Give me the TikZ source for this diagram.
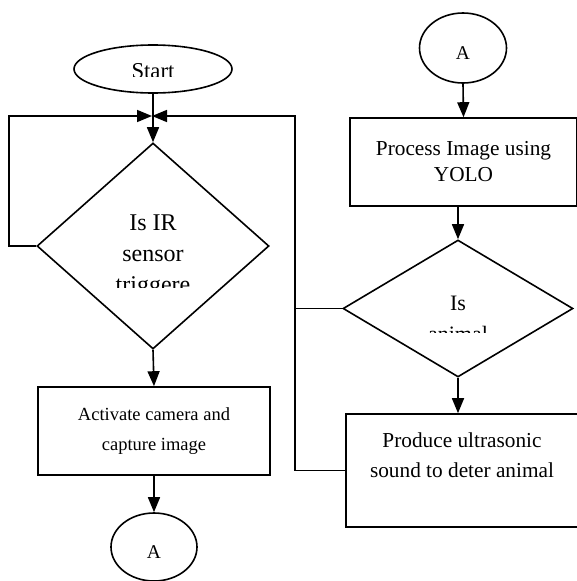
\documentclass[tikz,border=0pt]{standalone}
\usepackage{fontspec}
\setmainfont{Liberation Serif}
\usetikzlibrary{shapes.geometric, arrows.meta}

\begin{document}
\begin{tikzpicture}[x=1pt, y=-1pt, >={Triangle[width=12pt,length=15pt]}, line width=1.6pt,
    flowbox/.style={draw, rectangle, inner sep=0pt, align=center},
    decision/.style={draw, diamond, inner sep=0pt},
    terminal/.style={draw, ellipse, inner sep=0pt},
    connector/.style={terminal, text height=23pt, text depth=0pt, font=\fontsize{19.5}{24}\selectfont}]
    \useasboundingbox (0,0) rectangle (576,581);
    % left column
    \node[terminal, minimum width=158pt, minimum height=48pt] (start) at (153,69) {};
    \node[decision, minimum width=232pt, minimum height=206pt] (ir) at (153,246) {};
    \node[flowbox, minimum width=232pt, minimum height=88pt, font=\fontsize{18.5}{30}\selectfont] (cam) at (154,431) {Activate camera and\\capture image};
    \node[connector, minimum width=86pt, minimum height=68pt] (abot) at (154,547) {A};
    % right column
    \node[connector, minimum width=87pt, minimum height=70pt] (atop) at (463,48) {A};
    \node[flowbox, minimum width=227pt, minimum height=88pt, font=\fontsize{21.3}{26}\selectfont] (yolo) at (463.5,162) {Process Image using\\YOLO};
    \node[decision, minimum width=230pt, minimum height=137pt] (animal) at (458,308.5) {};
    \node[flowbox, minimum width=232pt, minimum height=113pt, font=\fontsize{21.3}{30}\selectfont] (sound) at (462,470.5) {Produce ultrasonic\\sound to deter animal\\\mbox{}};
    % clipped labels
    \begin{scope}
        \clip (60,40) rectangle (250,76);
        \node[anchor=base, font=\fontsize{22.7}{28}\selectfont] (starttext) at (153,78) {Start};
    \end{scope}
    \begin{scope}
        \clip (90,190) rectangle (220,287);
        \node[anchor=base, align=center, font=\fontsize{24}{31}\selectfont] (irtext) at (153,292) {Is IR\\sensor\\triggere};
    \end{scope}
    \begin{scope}
        \clip (400,280) rectangle (520,332);
        \node[anchor=base, align=center, font=\fontsize{22}{31}\selectfont] (animaltext) at (458,341) {Is\\animal};
    \end{scope}
    \coordinate (merge) at (152,116);
    \coordinate (rail) at (295,116);
    % connectors
    \draw[->] (start.south) -- (ir.north);
    \draw[->] (ir.west) -- ++(-27,0) |- (merge);
    \draw[->] (ir.south) -- (cam.north);
    \draw[->] (cam.south) -- (abot.north);
    \draw[->] (atop.south) -- (yolo.north);
    \draw[->] (yolo.south -| animal.north) -- (animal.north);
    \draw[->] (animal.south) -- (animal.south |- sound.north);
    \draw (animal.west) -- (animal.west -| rail);
    \draw[->] (sound.west) -| (rail) -- (merge);
\end{tikzpicture}
\end{document}
